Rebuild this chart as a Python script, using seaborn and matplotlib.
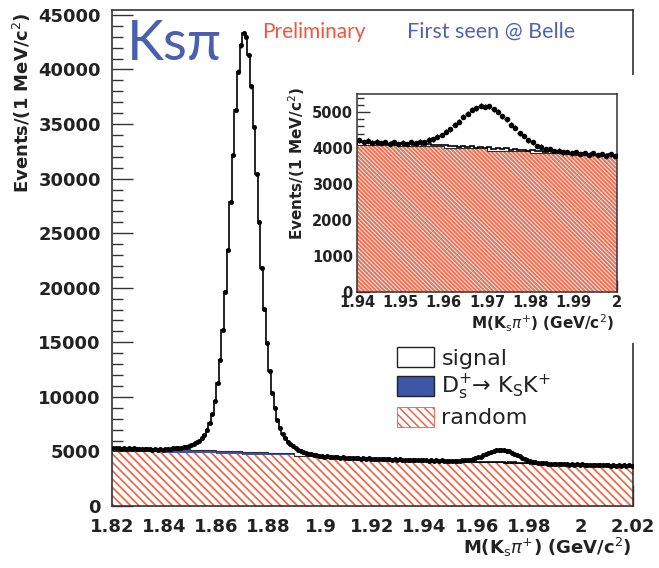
import numpy as np
import matplotlib
matplotlib.use("Agg")
import matplotlib.pyplot as plt
import seaborn as sns
from matplotlib.patches import Patch, Rectangle
from matplotlib.ticker import MultipleLocator, FuncFormatter

# ---------------- data ----------------
mass_lo, mass_hi, bin_w = 1.82, 2.02, 0.001      # 1 MeV/c^2 bins
data_counts = [
    5340, 5290, 5320, 5260, 5310, 5240, 5290, 5230, 5270, 5210,
    5260, 5200, 5250, 5190, 5220, 5160, 5210, 5150, 5190, 5140,
    5200, 5240, 5220, 5280, 5270, 5330, 5340, 5420, 5440, 5540,
    5610, 5700, 5850, 5990, 6210, 6500, 6950, 7600, 8450, 9650,
    11250, 13400, 16150, 19600, 23500, 27850, 32200, 36300, 39800, 42200,
    43350, 43000, 41350, 38450, 34700, 30400, 26000, 21800, 18050, 14900,
    12350, 10400, 8950, 7900, 7150, 6600, 6200, 5900, 5660, 5470,
    5300, 5160, 5060, 4950, 4900, 4810, 4760, 4700, 4660, 4600,
    4590, 4530, 4550, 4490, 4510, 4450, 4480, 4420, 4450, 4400,
    4430, 4380, 4420, 4360, 4400, 4350, 4380, 4330, 4370, 4320,
    4350, 4300, 4340, 4280, 4320, 4270, 4300, 4250, 4290, 4240,
    4270, 4220, 4260, 4210, 4250, 4200, 4230, 4180, 4220, 4170,
    4210, 4160, 4200, 4150, 4180, 4140, 4170, 4120, 4160, 4110,
    4150, 4110, 4160, 4130, 4180, 4170, 4230, 4240, 4310, 4360,
    4450, 4520, 4650, 4730, 4870, 4950, 5060, 5100, 5170, 5150,
    5160, 5070, 5010, 4880, 4800, 4650, 4560, 4410, 4330, 4210,
    4160, 4060, 4040, 3970, 3960, 3910, 3930, 3880, 3890, 3850,
    3880, 3830, 3860, 3810, 3850, 3800, 3840, 3790, 3820, 3780,
    3810, 3760, 3800, 3750, 3790, 3740, 3780, 3730, 3770, 3720,
    3760, 3710, 3750, 3700, 3740, 3690, 3730, 3680, 3720, 3670,
]
# D_s+ -> Ks pi+ excess (not part of the stacked histograms), bins 1.950-1.990
ds_start = 1.950
ds_excess = [
    8, 13, 21, 33, 50, 76, 110, 156, 214, 287,
    373, 473, 582, 698, 813, 921, 1015, 1088, 1134, 1150,
    1134, 1088, 1015, 921, 813, 698, 582, 473, 373, 287,
    214, 156, 110, 76, 50, 33, 21, 13, 8, 5,
]
# coarse (10 MeV/c^2) background components
coarse_w = 0.010
random_bkg = [5000, 4950, 4880, 4820, 4760, 4700, 4640, 4560, 4440, 4350,
              4270, 4190, 4090, 4050, 4000, 3930, 3860, 3800, 3740, 3670]
dsksk_bkg = [0, 250, 320, 330, 320, 280, 180, 0, 0, 0,
             0, 0, 0, 0, 0, 0, 0, 0, 0, 0]

legend_labels = ["signal", r"D$_\mathrm{s}^{+}$→ K$_\mathrm{S}$K$^{+}$", "random"]

# ---------------- derived arrays ----------------
data = np.array(data_counts, dtype=float)
nb = len(data)
edges = np.round(mass_lo + bin_w * np.arange(nb + 1), 4)
centers = 0.5 * (edges[:-1] + edges[1:])
ds_arr = np.zeros(nb)
i0 = int(round((ds_start - mass_lo) / bin_w))
ds_arr[i0:i0 + len(ds_excess)] = ds_excess
stack_top = data - ds_arr
rnd = np.array(random_bkg, float)
ksk = np.array(dsksk_bkg, float)
cedges = np.round(mass_lo + coarse_w * np.arange(len(rnd) + 1), 4)

# ---------------- style ----------------
sns.set_theme(style="white")
plt.rcParams["font.family"] = ["DejaVu Sans"]
plt.rcParams["mathtext.fontset"] = "dejavusans"
TXT = "#222222"
RED = "#f0583c"
BLUE = "#3c56a6"

W, H = 659, 568
fig = plt.figure(figsize=(W / 100, H / 100), dpi=100)
fig.patch.set_facecolor("white")


def fx(px):
    return px / W


def fy(py):
    return 1 - py / H


ax = fig.add_axes([fx(112), fy(506), fx(633) - fx(112), fy(10) - fy(506)])
ax.set_zorder(0)


def draw_hist(a, hatch, hatch_face, hatch_edge, hlw, msize):
    with plt.rc_context({"hatch.linewidth": hlw}):
        p = a.stairs(rnd, cedges, baseline=0, fill=True, facecolor=hatch_face,
                     edgecolor=hatch_edge, hatch=hatch, linewidth=0, zorder=1)
        if hasattr(p, "set_hatch_linewidth"):
            p.set_hatch_linewidth(hlw)
    a.stairs(rnd + ksk, cedges, baseline=rnd, fill=True, facecolor=BLUE,
             edgecolor="none", linewidth=0, zorder=2)
    a.stairs(rnd + ksk, cedges, baseline=None, fill=False, color="#303030",
             linewidth=0.8, zorder=2.5)
    a.stairs(stack_top, edges, baseline=None, fill=False, color="black",
             linewidth=1.2, zorder=3)
    a.errorbar(centers, data, yerr=np.sqrt(data), xerr=bin_w / 2, fmt="none",
               ecolor="black", elinewidth=1.0, zorder=4)
    sns.scatterplot(x=centers, y=data, ax=a, color="black", s=msize,
                    linewidth=0, zorder=5, legend=False)


draw_hist(ax, "\\\\\\\\", "white", "#f2603f", 1.2, 13)

ax.set_xlim(mass_lo, mass_hi)
ax.set_ylim(0, 45450)
ax.xaxis.set_major_locator(MultipleLocator(0.02))
ax.xaxis.set_minor_locator(MultipleLocator(0.005))
ax.yaxis.set_major_locator(MultipleLocator(5000))
ax.yaxis.set_minor_locator(MultipleLocator(1000))
ax.xaxis.set_major_formatter(FuncFormatter(lambda v, p: "%g" % round(v, 3)))
ax.yaxis.set_major_formatter(FuncFormatter(lambda v, p: "%d" % round(v)))
ax.tick_params(which="both", direction="in", top=False, right=False,
               left=True, bottom=True, colors="#333333", labelcolor=TXT)
ax.tick_params(which="major", length=15, width=1.0, labelsize=13)
ax.tick_params(which="minor", length=8, width=1.0)
ax.tick_params(axis="y", which="major", pad=8)
ax.tick_params(axis="x", which="major", pad=9)
for lab in ax.get_xticklabels() + ax.get_yticklabels():
    lab.set_fontweight("bold")
ax.set_xlabel("")
ax.set_ylabel("")
for s in ax.spines.values():
    s.set_color("#333333")
    s.set_linewidth(1.2)

fig.text(fx(22), fy(12), "Events/(1 MeV/c$^{2}$)", rotation=90, ha="center",
         va="top", fontsize=13, color=TXT, fontweight="bold")
fig.text(fx(631), fy(547), r"M(K$_\mathrm{s}\pi^{+}$) (GeV/c$^{2}$)",
         ha="right", va="center", fontsize=13, color=TXT, fontweight="bold")

# legend
handles = [
    Patch(facecolor="white", edgecolor="#222222", linewidth=1.0),
    Patch(facecolor=BLUE, edgecolor="#222222", linewidth=1.0),
    Patch(facecolor="white", edgecolor=RED, hatch="\\\\\\\\", linewidth=0.6),
]
leg = ax.legend(handles, legend_labels, loc="upper left",
                bbox_to_anchor=(fx(397), fy(347)), bbox_transform=fig.transFigure,
                frameon=False, fontsize=16, handlelength=1.65, handleheight=1.0,
                labelspacing=0.2, handletextpad=0.35, borderpad=0,
                borderaxespad=0)
for t in leg.get_texts():
    t.set_color(TXT)

# titles
fig.text(fx(127), fy(45), "Ksπ", fontsize=40, color="#4a5fb0",
         family=["Lato", "DejaVu Sans"], ha="left", va="center")
fig.text(fx(262), fy(32), "Preliminary", fontsize=15, color="#f2553f",
         family=["Lato", "DejaVu Sans"], ha="left", va="center")
fig.text(fx(407), fy(32), "First seen @ Belle", fontsize=15.5, color="#5264ad",
         family=["Lato", "DejaVu Sans"], ha="left", va="center")

# white pad behind the inset
fig.add_artist(Rectangle((fx(283), fy(343)), fx(641) - fx(283), fy(75) - fy(343),
                         transform=fig.transFigure, facecolor="white",
                         edgecolor="none", zorder=1.5))

# inset
axi = fig.add_axes([fx(357), fy(292), fx(617) - fx(357), fy(94) - fy(292)])
axi.set_zorder(2)
axi.set_facecolor("white")
draw_hist(axi, "\\\\\\\\\\\\\\\\", "#f07256", "white", 0.6, 16)
axi.set_xlim(1.94, 2.0)
axi.set_ylim(0, 5500)
axi.xaxis.set_major_locator(MultipleLocator(0.01))
axi.xaxis.set_minor_locator(MultipleLocator(0.002))
axi.yaxis.set_major_locator(MultipleLocator(1000))
axi.yaxis.set_minor_locator(MultipleLocator(200))
axi.xaxis.set_major_formatter(FuncFormatter(lambda v, p: "%g" % round(v, 3)))
axi.yaxis.set_major_formatter(FuncFormatter(lambda v, p: "%d" % round(v)))
axi.tick_params(which="both", direction="in", top=False, right=False,
                left=True, bottom=True, colors="#333333", labelcolor=TXT)
axi.tick_params(which="major", length=9, width=1.0, labelsize=10.5)
axi.tick_params(which="minor", length=5, width=1.0)
axi.tick_params(axis="y", which="major", pad=3)
axi.tick_params(axis="x", which="major", pad=2.5)
for lab in axi.get_xticklabels() + axi.get_yticklabels():
    lab.set_fontweight("bold")
axi.set_xlabel("")
axi.set_ylabel("")
for s in axi.spines.values():
    s.set_color("#333333")
    s.set_linewidth(1.1)

fig.text(fx(297), fy(87), "Events/(1 MeV/c$^{2}$)", rotation=90, ha="center",
         va="top", fontsize=11, color=TXT, zorder=5, fontweight="bold")
fig.text(fx(614), fy(323), r"M(K$_\mathrm{s}\pi^{+}$) (GeV/c$^{2}$)",
         ha="right", va="center", fontsize=11, color=TXT, zorder=5,
         fontweight="bold")

fig.savefig("out.png", dpi=100, facecolor="white")
